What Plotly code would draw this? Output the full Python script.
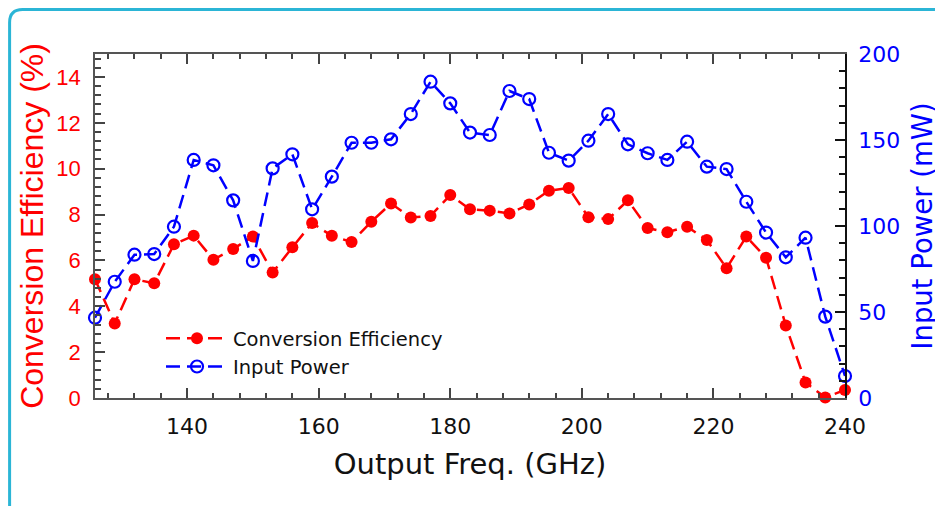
import plotly.graph_objects as go

freq = [126, 129, 132, 135, 138, 141, 144, 147, 150, 153, 156, 159, 162, 165, 168,
        171, 174, 177, 180, 183, 186, 189, 192, 195, 198, 201, 204, 207, 210, 213,
        216, 219, 222, 225, 228, 231, 234, 237, 240]
conv_eff = [5.18, 3.25, 5.18, 5.0, 6.7, 7.08, 6.03, 6.5, 7.04, 5.47, 6.57, 7.63, 7.07, 6.8, 7.69,
            8.48, 7.87, 7.94, 8.85, 8.23, 8.17, 8.05, 8.44, 9.04, 9.16, 7.88, 7.8, 8.62, 7.41, 7.23,
            7.47, 6.89, 5.66, 7.04, 6.12, 3.16, 0.68, 0.02, 0.35]
input_power = [46.7, 67.6, 83.3, 83.7, 99.6, 138.4, 135.3, 114.9, 79.7, 133.5, 141.7, 109.7, 128.7, 148.4, 148.4,
               150.4, 165.1, 183.9, 171.3, 154.3, 152.9, 178.5, 173.8, 142.6, 138.0, 149.6, 165.1, 147.5, 142.3, 138.4,
               149.0, 134.5, 133.1, 114.1, 96.2, 81.8, 93.2, 47.3, 12.8]

x_ticks = [140, 160, 180, 200, 220, 240]

RED = "#ff0000"
BLUE = "#0000ff"
DV = "DejaVu Sans"
LS = "Liberation Sans"

fig = go.Figure()
fig.add_trace(go.Scatter(
    x=freq, y=conv_eff, name="Conversion Efficiency", mode="lines+markers",
    line=dict(color=RED, width=2.5, dash="14px,7px"),
    marker=dict(symbol="circle", size=12, color=RED),
    yaxis="y", cliponaxis=False,
))
fig.add_trace(go.Scatter(
    x=freq, y=input_power, name="Input Power", mode="lines+markers",
    line=dict(color=BLUE, width=2.5, dash="14px,7px"),
    marker=dict(symbol="circle-open", size=12, color=BLUE, line=dict(width=2.2, color=BLUE)),
    yaxis="y2", cliponaxis=False,
))

W, H = 943, 506
OFF = 8  # page offset of the figure
L, R, T, B = 95, 845, 54, 398  # plot area in screen pixels


def px(v):
    return (v - L) / (R - L)


def py(v):
    return (B - v) / (B - T)


bx, by, rad = 9.6, 9.6, 13
border = (f"M {px(bx)},{py(560)} L {px(bx)},{py(by + rad)} Q {px(bx)},{py(by)} {px(bx + rad)},{py(by)} "
          f"L {px(1000)},{py(by)}")

fig.update_layout(
    width=W, height=H,
    margin=dict(l=L - OFF, r=W - (R - OFF), t=T - OFF, b=H - (B - OFF), pad=0, autoexpand=False),
    paper_bgcolor="white", plot_bgcolor="white",
    showlegend=True,
    legend=dict(
        x=px(161), y=py(319), xanchor="left", yanchor="top",
        bgcolor="rgba(0,0,0,0)", font=dict(family=DV, size=19.5, color="#111"),
        itemwidth=62, tracegroupgap=0,
    ),
    xaxis=dict(
        range=[126, 240], tickvals=x_ticks, ticks="inside", ticklen=10, tickwidth=1.5,
        tickcolor="#444", showline=True, linecolor="#555", linewidth=1.5, mirror="ticks",
        showgrid=False, zeroline=False, ticklabelstandoff=8,
        tickfont=dict(family=DV, size=22, color="#111"),
        minor=dict(dtick=4, tick0=0, ticks="inside", ticklen=5, tickcolor="#444", showgrid=False),
        title=dict(text="Output Freq. (GHz)", font=dict(family=DV, size=29, color="#111"), standoff=16),
    ),
    yaxis=dict(
        range=[0, 15], dtick=2, tick0=0, ticks="inside", ticklen=10, tickwidth=1.5,
        tickcolor="#444", showline=True, linecolor="#555", linewidth=1.5,
        showgrid=False, zeroline=False, ticklabelstandoff=8,
        tickfont=dict(family=LS, size=22, color=RED),
        minor=dict(dtick=0.4, tick0=0, ticks="inside", ticklen=6, tickcolor="#444", showgrid=False),
        title=dict(text="Conversion Efficiency (%)", font=dict(family=LS, size=32, color=RED), standoff=3),
    ),
    yaxis2=dict(
        range=[0, 200], dtick=50, tick0=0, overlaying="y", side="right",
        ticks="inside", ticklen=10, tickwidth=1.5, tickcolor="#111",
        showline=True, linecolor="#111", linewidth=1.5,
        showgrid=False, zeroline=False, ticklabelstandoff=7,
        tickfont=dict(family=DV, size=22, color=BLUE),
        minor=dict(dtick=10, tick0=0, ticks="inside", ticklen=6, tickcolor="#111", showgrid=False),
        title=dict(text="Input Power (mW)", font=dict(family=DV, size=27.5, color=BLUE), standoff=14),
    ),
    shapes=[dict(type="path", xref="paper", yref="paper", path=border,
                 line=dict(color="#2bb5d6", width=3), layer="below")],
)

fig.write_html("out.html")
